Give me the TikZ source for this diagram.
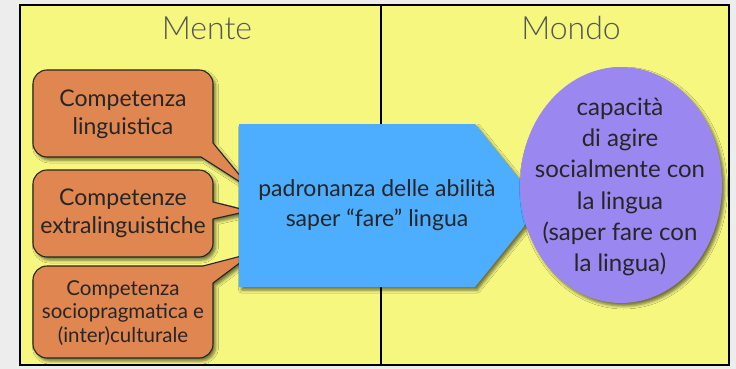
\documentclass[tikz,border=0pt]{standalone}
\usepackage{fontspec}
\setmainfont{Lato}
\newfontfamily\titlefont{Lato Light}
\usetikzlibrary{shapes.geometric,shadows.blur}
\definecolor{bg}{HTML}{EDEDED}
\definecolor{yel}{HTML}{F5F77F}
\definecolor{org}{HTML}{E08650}
\definecolor{blu}{HTML}{4DADFF}
\definecolor{pur}{HTML}{9B87F0}
\definecolor{ttl}{HTML}{555555}
\definecolor{txt}{HTML}{262626}
\begin{document}
\begin{tikzpicture}[x=1pt,y=-1pt,
  shd/.style={blur shadow={shadow xshift=2.5pt,shadow yshift=-3pt,shadow opacity=55,shadow blur radius=3pt}},
  callout/.style={fill=org,draw=black!85,line width=1.1pt,line join=round,shd},
  ctext/.style={align=center,text=txt,inner sep=0pt,font=\fontsize{23}{28}\selectfont},
  title/.style={text=ttl,inner sep=0pt,anchor=base,font=\titlefont\fontsize{32}{36}\selectfont}]
\useasboundingbox (0,0) rectangle (736,369);
\fill[bg] (0,0) rectangle (736,369);
\fill[yel] (20,5) rectangle (729,365);
\draw[line width=2pt] (381,5) -- (381,365);
% titles
\node[title] (mente) at (207,40) {Mente};
\node[title] (mondo) at (571,40) {Mondo};
% callouts
\path[callout] (47,70) -- (199,70) arc[start angle=270,end angle=360,radius=14]
  -- (213,143) -- (251,189) -- (201,157) -- (47,157)
  arc[start angle=90,end angle=180,radius=14] -- (33,84)
  arc[start angle=180,end angle=270,radius=14] -- cycle;
\path[callout] (47,170) -- (199,170) arc[start angle=270,end angle=360,radius=14]
  -- (213,202) -- (249,211) -- (213,219) -- (213,243)
  arc[start angle=0,end angle=90,radius=14] -- (47,257)
  arc[start angle=90,end angle=180,radius=14] -- (33,184)
  arc[start angle=180,end angle=270,radius=14] -- cycle;
\path[callout] (47,266) -- (203,266) -- (253,253) -- (213,283) -- (213,344)
  arc[start angle=0,end angle=90,radius=14] -- (47,358)
  arc[start angle=90,end angle=180,radius=14] -- (33,280)
  arc[start angle=180,end angle=270,radius=14] -- cycle;
\node[ctext] (c1) at (123,114) {Competenza\\linguistica};
\node[ctext] (c2) at (123,213.5) {Competenze\\extralinguistiche};
\node[ctext,font=\fontsize{20.5}{23.5}\selectfont] (c3) at (123,313) {Competenza\\sociopragmatica e\\(inter)culturale};
% blue arrow shape
\path[fill=blu,shd] (239,124) -- (475,124) -- (541,205.5) -- (475,287) -- (239,287) -- cycle;
\node[ctext,font=\fontsize{23}{30}\selectfont] (ab) at (377,205) {padronanza delle abilità\\saper “fare” lingua};
% ellipse
\node[ellipse,fill=pur,shd,minimum width=202pt,minimum height=236pt,inner sep=0pt] (cap) at (621,185) {};
\node[ctext,font=\fontsize{24}{31.3}\selectfont] (capt) at (620,187) {capacità\\di agire\\socialmente con\\la lingua\\(saper fare con\\la lingua)};
% frame
\draw[line width=2pt] (20,5) rectangle (729,365);
\end{tikzpicture}
\end{document}
